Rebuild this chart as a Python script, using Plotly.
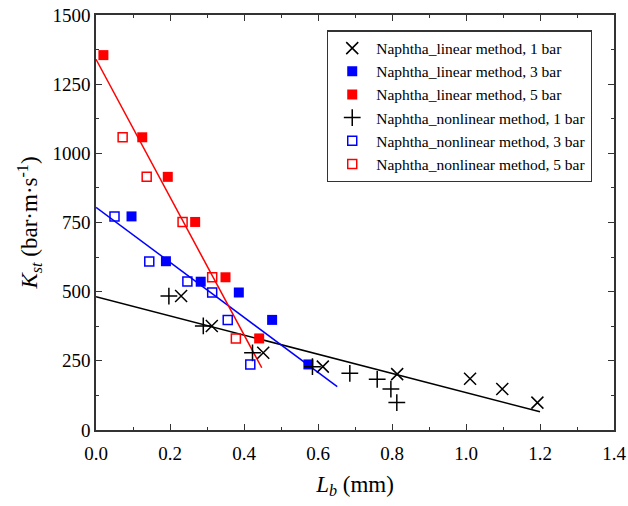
import plotly.graph_objects as go

# ---- data ----
lin1_x = [0.230, 0.313, 0.452, 0.613, 0.814, 1.011, 1.098, 1.193]
lin1_y = [484, 376, 279, 229, 202, 185, 148, 99]
lin3_x = [0.096, 0.189, 0.283, 0.386, 0.476, 0.574]
lin3_y = [772, 610, 536, 497, 398, 237]
lin5_x = [0.020, 0.125, 0.194, 0.268, 0.350, 0.441]
lin5_y = [1355, 1058, 915, 752, 552, 331]
non1_x = [0.197, 0.290, 0.423, 0.585, 0.686, 0.760, 0.797, 0.813]
non1_y = [484, 376, 279, 229, 205, 183, 148, 99]
non3_x = [0.050, 0.144, 0.247, 0.314, 0.356, 0.417]
non3_y = [772, 609, 537, 497, 398, 237]
non5_x = [0.072, 0.137, 0.234, 0.314, 0.378]
non5_y = [1058, 915, 752, 552, 331]

# linear fit lines: intercept, slope, x-range
fit1 = dict(b=482, m=-347, x=[0.0, 1.2])
fit3 = dict(b=805, m=-994, x=[0.0, 0.652])
fit5 = dict(b=1340, m=-2489, x=[0.0, 0.448])

x_ticks = [0.0, 0.2, 0.4, 0.6, 0.8, 1.0, 1.2, 1.4]
y_ticks = [0, 250, 500, 750, 1000, 1250, 1500]

FONT = "Liberation Serif"

fig = go.Figure()

for f, c in [(fit1, "black"), (fit3, "blue"), (fit5, "red")]:
    xs = f["x"]
    ys = [f["b"] + f["m"] * v for v in xs]
    fig.add_trace(go.Scatter(x=xs, y=ys, mode="lines", line=dict(color=c, width=1.5),
                             showlegend=False, hoverinfo="skip"))

fig.add_trace(go.Scatter(x=lin1_x, y=lin1_y, mode="markers", name="Naphtha_linear method, 1 bar",
                         marker=dict(symbol="x-thin-open", size=12, line=dict(color="black", width=1.5), color="black")))
fig.add_trace(go.Scatter(x=lin3_x, y=lin3_y, mode="markers", name="Naphtha_linear method, 3 bar",
                         marker=dict(symbol="square", size=10, color="blue", line=dict(width=0))))
fig.add_trace(go.Scatter(x=lin5_x, y=lin5_y, mode="markers", name="Naphtha_linear method, 5 bar",
                         marker=dict(symbol="square", size=10, color="red", line=dict(width=0))))
fig.add_trace(go.Scatter(x=non1_x, y=non1_y, mode="markers", name="Naphtha_nonlinear method, 1 bar",
                         marker=dict(symbol="cross-thin-open", size=12, line=dict(color="black", width=1.5), color="black")))
fig.add_trace(go.Scatter(x=non3_x, y=non3_y, mode="markers", name="Naphtha_nonlinear method, 3 bar",
                         marker=dict(symbol="square-open", size=9, color="blue", line=dict(color="blue", width=1.5))))
fig.add_trace(go.Scatter(x=non5_x, y=non5_y, mode="markers", name="Naphtha_nonlinear method, 5 bar",
                         marker=dict(symbol="square-open", size=9, color="red", line=dict(color="red", width=1.5))))

axis_common = dict(
    showgrid=False, zeroline=False, showline=True, linecolor="#333", linewidth=1.5,
    mirror="ticks", ticks="inside", ticklen=6, tickwidth=1.3, tickcolor="#333",
    tickfont=dict(family=FONT, size=19, color="black"), automargin=False,
    minor=dict(ticks="inside", ticklen=3, tickwidth=1.2, tickcolor="#333"),
)

fig.update_xaxes(**axis_common, range=[0, 1.4], tickvals=x_ticks,
                 ticktext=[f"{v:.1f}" for v in x_ticks], ticklabelstandoff=5,
                 title=dict(text="<i>L</i><sub><i>b</i></sub> (mm)", font=dict(family=FONT, size=23, color="black"),
                            standoff=13))
fig.update_xaxes(minor_dtick=0.1)
fig.update_yaxes(**axis_common, range=[0, 1500], tickvals=y_ticks,
                 title=dict(text="<i>K</i><sub><i>st</i></sub> (bar·m·s<sup>-1</sup>)",
                            font=dict(family=FONT, size=23, color="black"), standoff=8))
fig.update_yaxes(minor_dtick=125)

fig.update_layout(
    width=628, height=506,
    margin=dict(l=96, r=14, t=15, b=76),
    plot_bgcolor="white", paper_bgcolor="white",
    font=dict(family=FONT, color="black"),
    legend=dict(x=0.446, y=0.963, xanchor="left", yanchor="top",
                bgcolor="white", bordercolor="#333", borderwidth=1.2,
                font=dict(family=FONT, size=15.5, color="black"),
                tracegroupgap=0, itemwidth=38),
)

fig.write_html("out.html")
